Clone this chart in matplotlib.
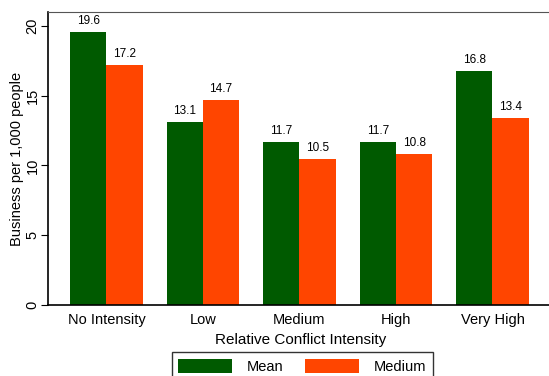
import numpy as np
import matplotlib
matplotlib.use('Agg')
import matplotlib.pyplot as plt

plt.rcParams['font.family'] = ['Liberation Sans', 'DejaVu Sans']

# data
categories = ['No Intensity', 'Low', 'Medium', 'High', 'Very High']
mean_vals = [19.6, 13.1, 11.7, 11.7, 16.8]
medium_vals = [17.2, 14.7, 10.5, 10.8, 13.4]

green = '#005a00'
orange = '#ff4500'

fig = plt.figure(figsize=(5.49, 3.76), dpi=100)
ax = fig.add_axes([48/549, 71/376, 1.006 - 48/549, (305-12)/376])

x = np.arange(len(categories))
w = 0.377
b1 = ax.bar(x - w/2, mean_vals, w, color=green, label='Mean')
b2 = ax.bar(x + w/2, medium_vals, w, color=orange, label='Medium')

for bars in (b1, b2):
    for r in bars:
        ax.text(r.get_x() + r.get_width()/2, r.get_height() + 0.35,
                f'{r.get_height():.1f}', ha='center', va='bottom', fontsize=8.5)

ax.set_xlim(-0.605, 4.62)
ax.set_ylim(0, 21)
ax.set_yticks([0, 5, 10, 15, 20])
ax.set_yticklabels(['0', '5', '10', '15', '20'], rotation=90, va='center')
ax.set_xticks(x)
ax.set_xticklabels(categories, fontsize=10.5)
ax.tick_params(axis='x', length=0, pad=6)
ax.tick_params(axis='y', length=5, labelsize=10.5, pad=1)
ax.set_ylabel('Business per 1,000 people', fontsize=10.5, labelpad=1)
ax.set_xlabel('Relative Conflict Intensity', fontsize=11, labelpad=4)

ax.spines['right'].set_visible(False)
ax.spines['top'].set_color('#555555')
for s in ('left', 'bottom'):
    ax.spines[s].set_color('black')
    ax.spines[s].set_linewidth(1.2)

fig.legend(handles=[b1, b2], loc='upper center', bbox_to_anchor=(0.551, 1 - 352/376),
           ncol=2, frameon=True, fancybox=False, edgecolor='black',
           handlelength=3.7, handleheight=1.1, columnspacing=1.5, handletextpad=1.0,
           fontsize=10.5, borderaxespad=0, borderpad=0.45)

fig.savefig('out.png', dpi=100)
